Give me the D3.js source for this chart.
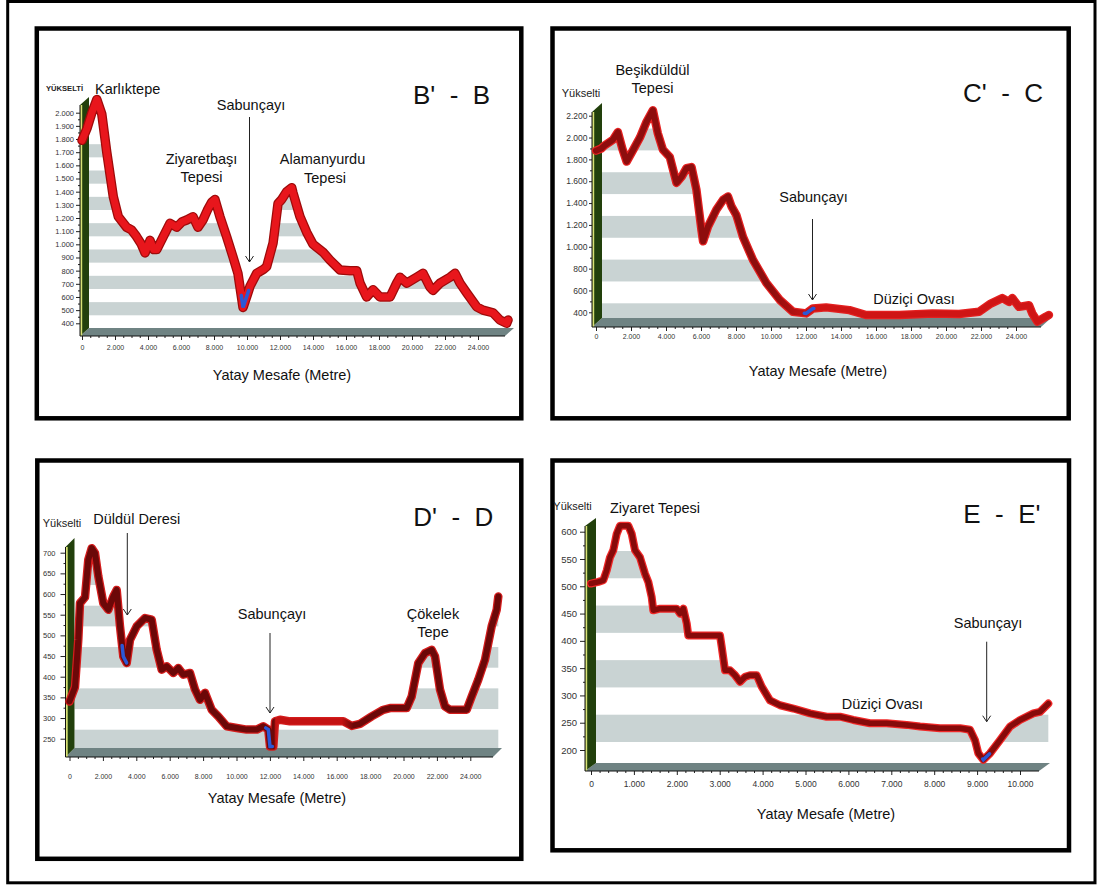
<!DOCTYPE html>
<html>
<head>
<meta charset="utf-8">
<script src="https://cdn.jsdelivr.net/npm/d3@7"></script>
<style>
  body { margin: 0; background: #fff; }
  svg { display: block; }
  text { font-family: "Liberation Sans", Arial, sans-serif; }
</style>
</head>
<body>
<div id="graph"></div>
<script>
// profile data: [distance (m), elevation (m)]
var profileB = [[0,1790],[300,1880],[600,2000],[900,2100],[1200,1990],[1500,1700],[1900,1360],[2200,1210],[2700,1130],[3000,1110],[3300,1060],[3600,1000],[3820,935],[4120,1030],[4350,960],[4530,960],[4910,1055],[5330,1160],[5740,1130],[6050,1170],[6350,1185],[6730,1210],[7030,1130],[7330,1185],[7600,1260],[7860,1320],[8060,1340],[8360,1210],[8770,1055],[9150,905],[9450,780],[9760,520],[10000,610],[10180,680],[10590,780],[11000,810],[11190,830],[11580,1010],[11880,1310],[12100,1340],[12400,1400],[12710,1430],[12790,1390],[13210,1210],[13620,1090],[14000,1000],[14610,940],[15030,880],[15640,805],[16240,800],[16650,800],[16850,705],[17250,600],[17640,655],[18060,600],[18670,600],[19070,705],[19270,750],[19680,705],[20280,750],[20670,780],[21090,675],[21270,650],[21700,705],[22300,750],[22610,780],[22910,705],[23320,630],[23920,525],[24300,500],[24910,480],[25330,425],[25740,400],[25820,425]];

var profileC = [[0,1880],[300,1900],[510,1930],[970,1980],[1250,2050],[1500,1900],[1750,1780],[2100,1880],[2510,2000],[2890,2145],[3250,2250],[3530,2040],[3820,1890],[4220,1820],[4600,1585],[4890,1640],[5170,1720],[5460,1730],[5740,1520],[6030,1150],[6120,1050],[6400,1185],[6880,1340],[7260,1430],[7540,1460],[7740,1370],[8020,1290],[8400,1090],[8970,880],[9730,670],[10490,515],[11250,405],[12010,390],[12390,435],[13150,445],[14480,420],[15430,375],[17330,375],[19230,390],[20750,385],[21890,405],[22560,480],[23220,530],[23600,495],[23790,530],[24170,450],[24740,465],[24930,390],[25220,315],[25700,360],[25880,375]];

var profileD = [[0,340],[330,375],[527,490],[629,578],[928,592],[1126,683],[1329,711],[1527,699],[1725,643],[2024,578],[2323,562],[2623,594],[2826,610],[3024,522],[3222,449],[3425,433],[3623,489],[4024,522],[4521,542],[4922,538],[5222,465],[5521,417],[5820,425],[6216,409],[6515,421],[6814,405],[7216,409],[7515,369],[7814,344],[8114,361],[8515,320],[8910,304],[9413,280],[10012,276],[10611,272],[11210,272],[11605,280],[11904,272],[12006,231],[12204,231],[12305,292],[12605,296],[13204,292],[16395,292],[16898,281],[17395,286],[18096,304],[18790,320],[19192,324],[20192,324],[20491,352],[20886,433],[21287,457],[21689,465],[21886,449],[22186,369],[22485,328],[22784,320],[23784,320],[24084,352],[24479,393],[24880,441],[25281,522],[25581,562],[25677,594]];

var profileE = [[0,505],[170,508],[287,511],[366,529],[443,553],[520,566],[599,596],[676,611],[870,611],[949,596],[1026,566],[1142,553],[1259,523],[1336,508],[1415,480],[1452,456],[1608,459],[1998,459],[2075,450],[2152,459],[2231,432],[2268,410],[2464,410],[3007,410],[3047,389],[3124,346],[3240,346],[3357,337],[3473,325],[3590,334],[3706,337],[3862,337],[3979,316],[4172,291],[4406,282],[4716,276],[5105,267],[5494,261],[5804,261],[6114,255],[6503,249],[6892,249],[7358,246],[7669,243],[8135,240],[8601,240],[8834,237],[8951,218],[9028,194],[9145,182],[9301,194],[9534,218],[9767,243],[10000,255],[10310,267],[10466,270],[10660,285]];

// river (Sabunçayı / Düldül Deresi) crossings, distance ranges
var riverB = [[9650, 10100]];
var riverC = [[11900, 12450]];
var riverD = [[3150, 3420], [11750, 12150]];
var riverE = [[9130, 9290]];

// tick labels
var yTicksB = [400, 500, 600, 700, 800, 900, 1000, 1100, 1200, 1300, 1400, 1500, 1600, 1700, 1800, 1900, 2000];
var yTicksC = [400, 600, 800, 1000, 1200, 1400, 1600, 1800, 2000, 2200];
var yTicksD = [250, 300, 350, 400, 450, 500, 550, 600, 650, 700];
var yTicksE = [200, 250, 300, 350, 400, 450, 500, 550, 600];
var xTicksLong = [0, 2000, 4000, 6000, 8000, 10000, 12000, 14000, 16000, 18000, 20000, 22000, 24000];
var xTicksE = [0, 1000, 2000, 3000, 4000, 5000, 6000, 7000, 8000, 9000, 10000];

var trLocale = d3.formatLocale({ decimal: ",", thousands: ".", grouping: [3], currency: ["", ""] });
var fmt = trLocale.format(",");

var svg = d3.select("#graph").append("svg").attr("width", 1100).attr("height", 886);
var defs = svg.append("defs");

svg.append("rect")
  .attr("x", 7.7).attr("y", 1.5)
  .attr("width", 1087.3).attr("height", 881.3)
  .attr("fill", "#fff").attr("stroke", "#000").attr("stroke-width", 3);

var panels = [
  {
    id: "B", box: [36.8, 28.5, 521.3, 418.3], data: profileB, river: riverB,
    x0: 80, x1: 505, yTop: 105, yB: 336, dx: 9, dy: -8,
    xRange: [82, 478], yDomain: [400, 2000], yRange: [323.3, 112.7],
    band: [400, 200, 1600, 100],
    yTicks: yTicksB, yMinor: 50, xTicks: xTicksLong, xMinor: 500,
    yFont: 7.5, yTick: 4, yPad: 2, xFont: 7, xPad: 5.5,
    under: "#9e0a0a", stops: [[0, "#e8161c"]], lw: 7,
    yLabel: { text: "YÜKSELTİ", x: 46, y: 91, size: 7.5, serif: true, len: 37 },
    title: { text: "B'  -  B", x: 413, y: 104 },
    names: [["Karlıktepe", 95, 94, "start"], ["Sabunçayı", 251, 110, "middle"],
            ["Ziyaretbaşı", 201.5, 163.5, "middle"], ["Tepesi", 201.5, 182, "middle"],
            ["Alamanyurdu", 322.5, 164, "middle"], ["Tepesi", 325, 183, "middle"]],
    arrows: [[249.5, 117, 262]],
    xTitle: [282, 380]
  },
  {
    id: "C", box: [552.5, 28.5, 1068.7, 418.3], data: profileC, river: riverC,
    x0: 592, x1: 1041, yTop: 112, yB: 327, dx: 10, dy: -9,
    xRange: [596, 1016], yDomain: [400, 2200], yRange: [312.3, 115.7],
    band: [200, 400, 1800, 200],
    yTicks: yTicksC, yMinor: 100, xTicks: xTicksLong, xMinor: 500,
    yFont: 8.5, yTick: 3, yPad: 1.5, xFont: 7, xPad: 3.5,
    under: "#e42020", stops: [[0, "#8e0d0d"], [10000, "#8e0d0d"], [12500, "#cf1515"]], lw: 6,
    yLabel: { text: "Yükselti", x: 561.7, y: 97.3, size: 11 },
    title: { text: "C'  -  C", x: 963, y: 101.7 },
    names: [["Beşikdüldül", 652.5, 75, "middle"], ["Tepesi", 652.5, 93, "middle"],
            ["Sabunçayı", 813.5, 201.5, "middle"], ["Düziçi Ovası", 914, 304, "middle"]],
    arrows: [[812.5, 219, 300]],
    xTitle: [818, 376]
  },
  {
    id: "D", box: [37.3, 460.5, 521.3, 858.8], data: profileD, river: riverD,
    x0: 65.5, x1: 493, yTop: 547, yB: 757, dx: 9, dy: -9,
    xRange: [69.5, 470.3], yDomain: [250, 700], yRange: [738.7, 552.7],
    band: [200, 100, 600, 50],
    yTicks: yTicksD, yMinor: 25, xTicks: xTicksLong, xMinor: 500,
    yFont: 7.5, yTick: 5, yPad: 5, xFont: 7, xPad: 13,
    under: "#d41c1c",
    stops: [[0, "#6c0808"], [12250, "#6c0808"], [12350, "#c41212"], [16300, "#c41212"], [17000, "#6c0808"]],
    lw: 6,
    yLabel: { text: "Yükselti", x: 42.7, y: 527.3, size: 11 },
    title: { text: "D'  -  D", x: 413.3, y: 526 },
    names: [["Düldül Deresi", 93.3, 524.3, "start"], ["Sabunçayı", 272, 619, "middle"],
            ["Çökelek", 433, 618.7, "middle"], ["Tepe", 433, 637.3, "middle"]],
    arrows: [[127.3, 533, 615], [270, 633, 713]],
    xTitle: [277, 803]
  },
  {
    id: "E", box: [552.5, 460.5, 1069, 850.3], data: profileE, river: riverE,
    x0: 585, x1: 1039, yTop: 526, yB: 771, dx: 11, dy: -8,
    xRange: [591, 1020], yDomain: [200, 600], yRange: [750, 531.7],
    band: [200, 100, 500, 50],
    yTicks: yTicksE, yMinor: 25, xTicks: xTicksE, xMinor: 200,
    yFont: 9.5, yTick: 5, yPad: 3, xFont: 8.5, xPad: 6,
    under: "#f02828", stops: [[0, "#870a0a"]], lw: 5.5,
    yLabel: { text: "Yükselti", x: 553.3, y: 510, size: 11 },
    title: { text: "E  -  E'", x: 963.3, y: 523.3 },
    names: [["Ziyaret Tepesi", 610, 512.7, "start"], ["Düziçi Ovası", 841.7, 709.3, "start"],
            ["Sabunçayı", 988, 628.3, "middle"]],
    arrows: [[986.7, 641.7, 721.7]],
    xTitle: [826, 819]
  }
];

panels.forEach(drawPanel);

function minorValues(ticks, step) {
  return d3.range(ticks[0], ticks[ticks.length - 1] + step / 2, step)
    .filter(function(v) { return ticks.indexOf(v) < 0; });
}

function valueAt(data, x) {
  var i = d3.bisector(function(d) { return d[0]; }).left(data, x);
  if (i <= 0) return data[0][1];
  if (i >= data.length) return data[data.length - 1][1];
  var a = data[i - 1], b = data[i];
  return a[1] + (b[1] - a[1]) * (x - a[0]) / (b[0] - a[0]);
}

function drawPanel(p) {
  var g = svg.append("g").attr("class", "panel" + p.id);
  var b = p.box;

  g.append("rect")
    .attr("x", b[0]).attr("y", b[1])
    .attr("width", b[2] - b[0]).attr("height", b[3] - b[1])
    .attr("fill", "#fff").attr("stroke", "#000").attr("stroke-width", 4.5);

  var xScale = d3.scaleLinear().domain([0, p.xTicks[p.xTicks.length - 1]]).range(p.xRange);
  var yScale = d3.scaleLinear().domain(p.yDomain).range(p.yRange);
  var floorTop = p.yB + p.dy;

  // stripes of the back wall, only visible below the profile
  var area = d3.area()
    .x(function(d) { return xScale(d[0]); })
    .y0(floorTop)
    .y1(function(d) { return yScale(d[1]); });
  defs.append("clipPath").attr("id", "clip" + p.id)
    .append("path").attr("d", area(p.data));

  var stripes = g.append("g").attr("clip-path", "url(#clip" + p.id + ")");
  d3.range(p.band[0], p.band[2] + 1, p.band[1]).forEach(function(v) {
    var yt = yScale(v + p.band[3]) + p.dy;
    var yb = yScale(v) + p.dy;
    stripes.append("rect")
      .attr("x", p.x0 + p.dx).attr("y", yt)
      .attr("width", p.x1 - p.x0).attr("height", yb - yt)
      .attr("fill", "#c9d3d3");
  });

  // 3d floor
  g.append("polygon")
    .attr("points", [[p.x0, p.yB], [p.x0 + p.dx, floorTop], [p.x1 + p.dx, floorTop], [p.x1, p.yB]].join(" "))
    .attr("fill", "#6f8383");

  // 3d left wall
  g.append("polygon")
    .attr("points", [[p.x0, p.yB], [p.x0, p.yTop], [p.x0 + p.dx, p.yTop + p.dy], [p.x0 + p.dx, floorTop]].join(" "))
    .attr("fill", "#22400c");
  g.append("line")
    .attr("x1", p.x0 + 1.2).attr("x2", p.x0 + 1.2)
    .attr("y1", p.yTop).attr("y2", p.yB)
    .attr("stroke", "#d8e276").attr("stroke-width", 2);

  // axes
  var yAxis = g.append("g").attr("transform", "translate(" + p.x0 + ",0)")
    .call(d3.axisLeft(yScale).tickValues(p.yTicks).tickFormat(fmt).tickSize(p.yTick).tickPadding(p.yPad));
  g.append("g").attr("transform", "translate(" + p.x0 + ",0)")
    .call(d3.axisLeft(yScale).tickValues(minorValues(p.yTicks, p.yMinor)).tickFormat("").tickSize(2));

  var xAxis = g.append("g").attr("transform", "translate(0," + p.yB + ")")
    .call(d3.axisBottom(xScale).tickValues(p.xTicks).tickFormat(fmt).tickSize(4).tickPadding(p.xPad));
  g.append("g").attr("transform", "translate(0," + p.yB + ")")
    .call(d3.axisBottom(xScale).tickValues(minorValues(p.xTicks, p.xMinor)).tickFormat("").tickSize(2));

  g.selectAll(".domain").remove();
  g.selectAll(".tick line").attr("stroke", "#222");
  yAxis.selectAll("text").attr("font-size", p.yFont).attr("fill", "#333")
    .attr("font-family", "Liberation Sans, Arial, sans-serif");
  xAxis.selectAll("text").attr("font-size", p.xFont).attr("fill", "#333")
    .attr("font-family", "Liberation Sans, Arial, sans-serif");

  g.append("line").attr("x1", p.x0).attr("x2", p.x0).attr("y1", p.yTop).attr("y2", p.yB)
    .attr("stroke", "#111").attr("stroke-width", 1);
  g.append("line").attr("x1", p.x0).attr("x2", p.x1).attr("y1", p.yB).attr("y2", p.yB)
    .attr("stroke", "#111").attr("stroke-width", 1);

  // profile line
  var line = d3.line()
    .x(function(d) { return xScale(d[0]); })
    .y(function(d) { return yScale(d[1]); });

  var bodyColor = p.stops[0][1];
  if (p.stops.length > 1) {
    var lo = xScale(0), hi = xScale(p.data[p.data.length - 1][0]);
    var grad = defs.append("linearGradient").attr("id", "grad" + p.id)
      .attr("gradientUnits", "userSpaceOnUse")
      .attr("x1", lo).attr("x2", hi).attr("y1", 0).attr("y2", 0);
    p.stops.forEach(function(s) {
      grad.append("stop")
        .attr("offset", (xScale(s[0]) - lo) / (hi - lo))
        .attr("stop-color", s[1]);
    });
    bodyColor = "url(#grad" + p.id + ")";
  }

  g.append("path").attr("d", line(p.data))
    .attr("fill", "none").attr("stroke", p.under).attr("stroke-width", p.lw + 2.5)
    .attr("stroke-linejoin", "round").attr("stroke-linecap", "round");
  g.append("path").attr("d", line(p.data))
    .attr("fill", "none").attr("stroke", bodyColor).attr("stroke-width", p.lw)
    .attr("stroke-linejoin", "round").attr("stroke-linecap", "round");

  p.river.forEach(function(r) {
    var pts = [[r[0], valueAt(p.data, r[0])]]
      .concat(p.data.filter(function(d) { return d[0] > r[0] && d[0] < r[1]; }))
      .concat([[r[1], valueAt(p.data, r[1])]]);
    g.append("path").attr("d", line(pts))
      .attr("fill", "none").attr("stroke", "#2b58d6").attr("stroke-width", 3.5)
      .attr("stroke-linecap", "round");
  });

  // texts
  var yl = g.append("text")
    .attr("x", p.yLabel.x).attr("y", p.yLabel.y)
    .attr("font-size", p.yLabel.size).attr("fill", "#222")
    .text(p.yLabel.text);
  if (p.yLabel.serif) {
    yl.attr("font-family", "Liberation Serif, serif").attr("font-weight", "bold")
      .attr("textLength", p.yLabel.len).attr("lengthAdjust", "spacingAndGlyphs");
  }

  g.append("text")
    .attr("x", p.title.x).attr("y", p.title.y)
    .attr("font-size", 26).attr("fill", "#111")
    .style("white-space", "pre")
    .text(p.title.text);

  g.selectAll(".name").data(p.names).enter().append("text")
    .attr("class", "name")
    .attr("x", function(d) { return d[1]; })
    .attr("y", function(d) { return d[2]; })
    .attr("text-anchor", function(d) { return d[3]; })
    .attr("font-size", 14.5).attr("fill", "#111")
    .text(function(d) { return d[0]; });

  p.arrows.forEach(function(a) {
    g.append("line").attr("x1", a[0]).attr("x2", a[0]).attr("y1", a[1]).attr("y2", a[2])
      .attr("stroke", "#222").attr("stroke-width", 1);
    g.append("polyline")
      .attr("points", [[a[0] - 4, a[2] - 6], [a[0], a[2]], [a[0] + 4, a[2] - 6]].join(" "))
      .attr("fill", "none").attr("stroke", "#222").attr("stroke-width", 1);
  });

  g.append("text")
    .attr("x", p.xTitle[0]).attr("y", p.xTitle[1])
    .attr("text-anchor", "middle").attr("font-size", 14.5).attr("fill", "#111")
    .text("Yatay Mesafe (Metre)");
}
</script>
</body>
</html>
